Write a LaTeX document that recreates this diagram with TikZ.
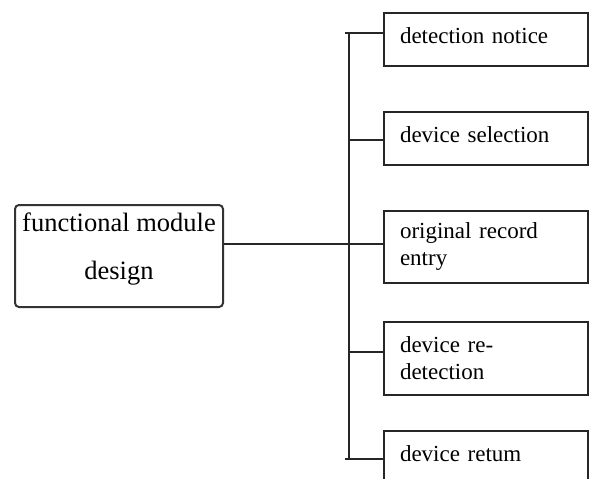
\documentclass[tikz,border=0pt]{standalone}
\usepackage{fontspec}
\setmainfont{Liberation Serif}
\usetikzlibrary{positioning}

\begin{document}
\begin{tikzpicture}[x=1pt, y=-1pt,
  link/.style={line width=1.1pt, draw=black!85},
  item/.style={draw, draw=black!85, line width=1.1pt, rectangle, minimum width=204pt,
    inner xsep=16pt, text width=172pt, align=left, font=\fontsize{23}{27}\selectfont},
  oneline/.style={item, minimum height=53pt, text height=16pt, text depth=8pt},
  twoline/.style={item, minimum height=72pt}]
\useasboundingbox (0,0) rectangle (590,479);

\node[draw, rounded corners=4pt, line width=2pt, draw=black!80, minimum width=208pt,
  minimum height=102pt, align=center, text height=66pt, text depth=20pt,
  font=\fontsize{26.5}{48}\selectfont] (design) at (119,256) {functional module\\design};

\node[oneline] (notice) at (486,39.5) {detection notice};
\node[oneline] (select) at (486,138.5) {device selection};
\node[twoline] (entry) at (486,247) {original record\\entry};
\node[twoline, minimum height=73pt] (redetect) at (486,358.5) {device re-\\detection};
\node[oneline] (return) at (486,457.5) {device retum};

% trunk
\coordinate (t1) at (349,33);
\coordinate (t2) at (349,140);
\coordinate (hub) at (349,244);
\coordinate (t4) at (349,352);
\coordinate (t5) at (349,459);
\draw[link] (t1) -- (t5);
\draw[link] ([xshift=-4pt]t1) -- (notice.west |- t1);
\draw[link] (t2) -- (select.west |- t2);
\draw[link] (design.east |- hub) -- (entry.west |- hub);
\draw[link] (t4) -- (redetect.west |- t4);
\draw[link] ([xshift=-4pt]t5) -- (return.west |- t5);
\end{tikzpicture}
\end{document}
